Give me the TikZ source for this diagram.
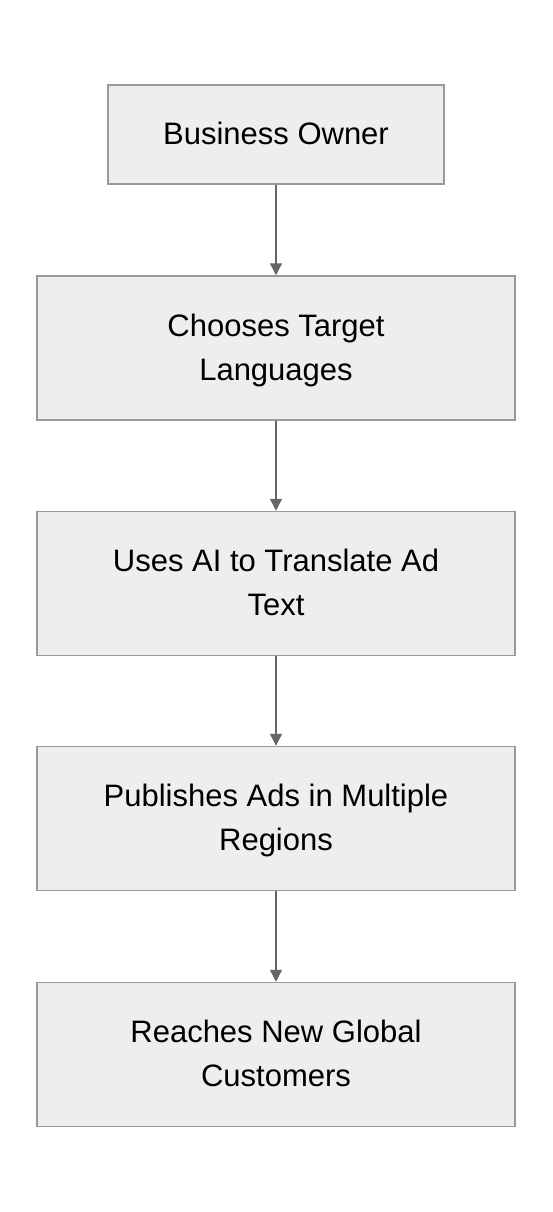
\documentclass[tikz,border=0pt]{standalone}
\usepackage{fontspec}
\setmainfont{Liberation Sans}
\usetikzlibrary{arrows.meta}
\definecolor{boxfill}{HTML}{EEEEEE}
\definecolor{boxline}{HTML}{999999}
\definecolor{arrowcol}{HTML}{666666}
\tikzset{
  flowbox/.style={draw=boxline, fill=boxfill, line width=1.5pt, align=center, font=\fontsize{31}{44}\selectfont, inner sep=0pt, text depth=2pt},
  flowarrow/.style={draw=arrowcol, line width=1.5pt, -{Triangle[length=12pt,width=12pt]}}
}
\begin{document}
\begin{tikzpicture}[x=1pt,y=-1pt]
\useasboundingbox (0,0) rectangle (552,1212);
\node[flowbox, minimum width=336pt, minimum height=99pt] (a) at (276,134.5) {Business Owner};
\node[flowbox, minimum width=478pt, minimum height=144pt] (b) at (276,348) {Chooses Target\\Languages};
\node[flowbox, minimum width=478pt, minimum height=144pt] (c) at (276,583.5) {Uses AI to Translate Ad\\Text};
\node[flowbox, minimum width=478pt, minimum height=144pt] (d) at (276,818.5) {Publishes Ads in Multiple\\Regions};
\node[flowbox, minimum width=478pt, minimum height=144pt] (e) at (276,1054.5) {Reaches New Global\\Customers};
\draw[flowarrow] (a) -- (b);
\draw[flowarrow] (b) -- (c);
\draw[flowarrow] (c) -- (d);
\draw[flowarrow] (d) -- (e);
\end{tikzpicture}
\end{document}
